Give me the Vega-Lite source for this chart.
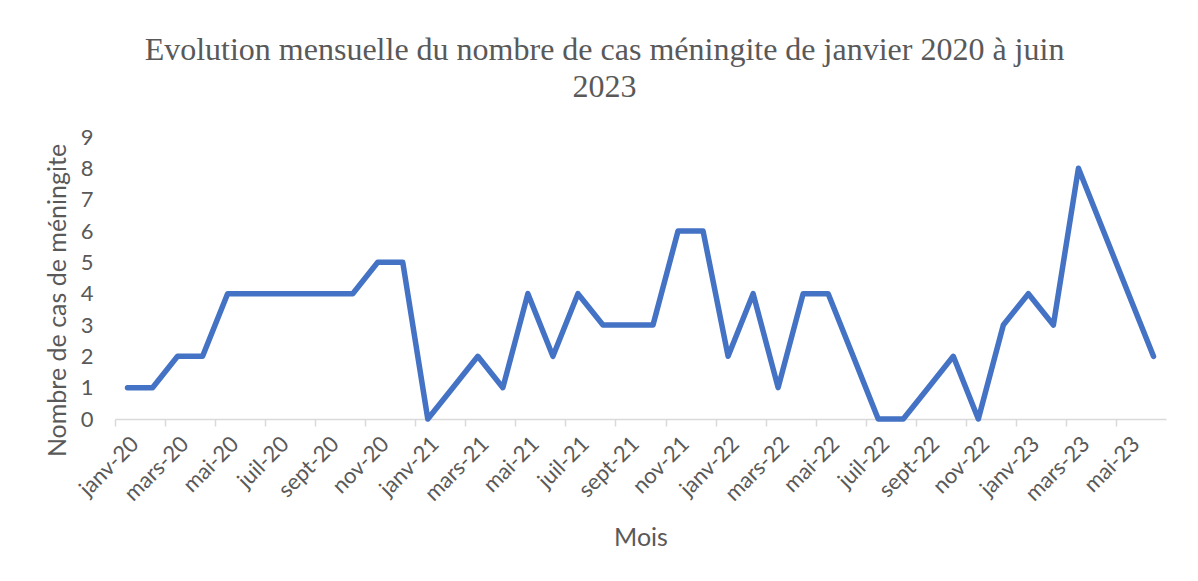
{
  "$schema": "https://vega.github.io/schema/vega-lite/v6.json",
  "autosize": "none",
  "width": 1051,
  "height": 282,
  "padding": {"left": 115, "top": 137, "right": 32, "bottom": 162},
  "background": "white",
  "title": {
    "text": ["Evolution mensuelle du nombre de cas méningite de janvier 2020 à juin", "2023"],
    "font": "Liberation Serif",
    "fontSize": 32,
    "fontWeight": "normal",
    "color": "#595959",
    "lineHeight": 37,
    "anchor": "middle",
    "dx": -36,
    "offset": 22
  },
  "data": {
    "values": [
      {"mois": "janv-20", "cas": 1},
      {"mois": "févr-20", "cas": 1},
      {"mois": "mars-20", "cas": 2},
      {"mois": "avr-20", "cas": 2},
      {"mois": "mai-20", "cas": 4},
      {"mois": "juin-20", "cas": 4},
      {"mois": "juil-20", "cas": 4},
      {"mois": "août-20", "cas": 4},
      {"mois": "sept-20", "cas": 4},
      {"mois": "oct-20", "cas": 4},
      {"mois": "nov-20", "cas": 5},
      {"mois": "déc-20", "cas": 5},
      {"mois": "janv-21", "cas": 0},
      {"mois": "févr-21", "cas": 1},
      {"mois": "mars-21", "cas": 2},
      {"mois": "avr-21", "cas": 1},
      {"mois": "mai-21", "cas": 4},
      {"mois": "juin-21", "cas": 2},
      {"mois": "juil-21", "cas": 4},
      {"mois": "août-21", "cas": 3},
      {"mois": "sept-21", "cas": 3},
      {"mois": "oct-21", "cas": 3},
      {"mois": "nov-21", "cas": 6},
      {"mois": "déc-21", "cas": 6},
      {"mois": "janv-22", "cas": 2},
      {"mois": "févr-22", "cas": 4},
      {"mois": "mars-22", "cas": 1},
      {"mois": "avr-22", "cas": 4},
      {"mois": "mai-22", "cas": 4},
      {"mois": "juin-22", "cas": 2},
      {"mois": "juil-22", "cas": 0},
      {"mois": "août-22", "cas": 0},
      {"mois": "sept-22", "cas": 1},
      {"mois": "oct-22", "cas": 2},
      {"mois": "nov-22", "cas": 0},
      {"mois": "déc-22", "cas": 3},
      {"mois": "janv-23", "cas": 4},
      {"mois": "févr-23", "cas": 3},
      {"mois": "mars-23", "cas": 8},
      {"mois": "avr-23", "cas": 6},
      {"mois": "mai-23", "cas": 4},
      {"mois": "juin-23", "cas": 2}
    ]
  },
  "mark": {"type": "line", "color": "#4472C4", "strokeWidth": 5.5, "strokeCap": "round", "strokeJoin": "round"},
  "encoding": {
    "x": {
      "field": "mois",
      "type": "ordinal",
      "sort": null,
      "scale": {"type": "point", "padding": 0.5},
      "axis": {
        "title": "Mois",
        "titleFont": "Lato",
        "titleFontSize": 25,
        "titleFontWeight": "normal",
        "titleColor": "#595959",
        "titleBaseline": "alphabetic",
        "titleY": 126,
        "values": ["janv-20", "mars-20", "mai-20", "juil-20", "sept-20", "nov-20", "janv-21", "mars-21", "mai-21", "juil-21", "sept-21", "nov-21", "janv-22", "mars-22", "mai-22", "juil-22", "sept-22", "nov-22", "janv-23", "mars-23", "mai-23"],
        "labelAngle": -45,
        "labelFont": "Lato",
        "labelFontSize": 22,
        "labelColor": "#595959",
        "labelPadding": 7,
        "tickOffset": -12.51,
        "labelOffset": 12.51,
        "tickSize": 7,
        "tickColor": "#d9d9d9",
        "tickWidth": 1.5,
        "domainColor": "#d9d9d9",
        "domainWidth": 1.5,
        "grid": false
      }
    },
    "y": {
      "field": "cas",
      "type": "quantitative",
      "scale": {"domain": [0, 9], "nice": false},
      "axis": {
        "title": "Nombre de cas de méningite",
        "titleFont": "Lato",
        "titleFontSize": 25,
        "titleFontWeight": "normal",
        "titleColor": "#595959",
        "titleAngle": -90,
        "titleAlign": "center",
        "titleBaseline": "alphabetic",
        "titleX": -50,
        "titleY": 163,
        "values": [0, 1, 2, 3, 4, 5, 6, 7, 8, 9],
        "labelFont": "Lato",
        "labelFontSize": 22,
        "labelColor": "#595959",
        "labelPadding": 22,
        "ticks": false,
        "tickSize": 0,
        "domain": false,
        "grid": false
      }
    }
  },
  "config": {"view": {"stroke": null}}
}
